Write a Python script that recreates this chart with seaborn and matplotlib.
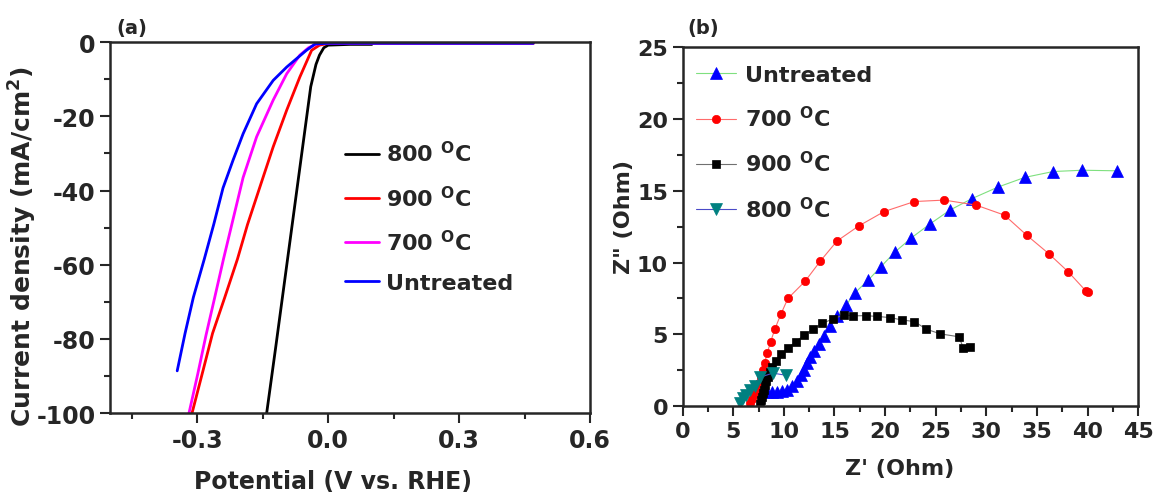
import numpy as np
import pandas as pd
import seaborn as sns
import matplotlib.pyplot as plt
from matplotlib.ticker import MultipleLocator

# ---- panel (a): LSV curves (potential V vs RHE, current density mA/cm2)
pot_800 = [0.10, 0.05, 0.0, -0.01, -0.02, -0.028, -0.04, -0.06, -0.08, -0.10, -0.12, -0.141]
cur_800 = [-0.6, -0.6, -0.8, -1.5, -3.5, -6.0, -12.0, -29.5, -47.0, -64.5, -82.0, -100.0]

pot_900 = [0.47, 0.2, 0.0, -0.02, -0.038, -0.065, -0.095, -0.126, -0.155, -0.185, -0.208, -0.237, -0.265, -0.287, -0.312]
cur_900 = [-0.3, -0.3, -0.3, -0.8, -2.2, -9.4, -18.3, -28.2, -38.5, -49.2, -58.5, -68.8, -78.5, -88.6, -100.0]

pot_700 = [0.47, 0.2, 0.0, -0.027, -0.045, -0.065, -0.095, -0.126, -0.164, -0.195, -0.221, -0.24, -0.26, -0.28, -0.299, -0.319]
cur_700 = [-0.3, -0.3, -0.3, -0.5, -1.5, -3.5, -8.5, -15.6, -25.5, -36.5, -49.2, -58.5, -68.8, -79.0, -89.5, -100.0]

pot_un = [0.47, 0.2, 0.0, -0.03, -0.05, -0.07, -0.095, -0.126, -0.164, -0.195, -0.218, -0.241, -0.262, -0.284, -0.309, -0.328, -0.346]
cur_un = [-0.3, -0.3, -0.3, -0.5, -2.2, -4.2, -6.7, -10.3, -16.6, -24.7, -31.8, -39.3, -49.0, -58.5, -68.8, -78.5, -88.6]

# ---- panel (b): Nyquist plots (Z', Z'')
zr_un = [7.45, 7.8, 8.3, 8.8, 9.3, 9.8, 10.3, 10.8, 11.3, 11.7, 12.0, 12.3, 12.6, 13.0, 13.5, 13.96,
         14.6, 15.26, 16.14, 17.05, 18.35, 19.6, 21.0, 22.6, 24.4, 26.4, 28.6, 31.2, 33.8, 36.6, 39.5, 42.9]
zi_un = [1.15, 1.05, 1.0, 1.0, 1.0, 1.05, 1.15, 1.4, 1.75, 2.15, 2.55, 3.0, 3.4, 3.85, 4.32, 4.85,
         5.55, 6.29, 7.03, 7.91, 8.79, 9.72, 10.75, 11.72, 12.67, 13.65, 14.46, 15.27, 15.93, 16.34, 16.43, 16.39]

zr_700 = [6.7, 6.9, 7.1, 7.3, 7.5, 7.7, 7.9, 8.1, 8.35, 8.7, 9.1, 9.7, 10.4, 12.1, 13.6, 15.25,
          17.4, 19.9, 22.9, 25.85, 29.0, 31.8, 34.0, 36.2, 38.1, 39.8, 40.0]
zi_700 = [0.2, 0.5, 0.85, 1.2, 1.6, 2.0, 2.5, 3.0, 3.7, 4.5, 5.35, 6.4, 7.5, 8.7, 10.1, 11.5,
          12.55, 13.55, 14.25, 14.35, 14.0, 13.3, 11.9, 10.6, 9.35, 8.05, 7.98]

zr_900 = [7.6, 7.7, 7.8, 7.9, 8.0, 8.1, 8.25, 8.4, 8.6, 8.85, 9.2, 9.7, 10.4, 11.2, 12.0, 12.9,
          13.8, 14.84, 15.9, 16.84, 18.1, 19.16, 20.46, 21.68, 22.9, 24.07, 25.47, 27.3, 27.72, 28.35]
zi_900 = [0.15, 0.4, 0.65, 0.9, 1.15, 1.45, 1.75, 2.05, 2.4, 2.75, 3.15, 3.6, 4.05, 4.5, 4.95, 5.36,
          5.78, 6.06, 6.36, 6.29, 6.3, 6.25, 6.17, 6.0, 5.89, 5.36, 5.03, 4.83, 4.06, 4.13]

zr_800 = [5.65, 6.0, 6.3, 6.7, 7.1, 7.6, 8.9, 10.2]
zi_800 = [0.25, 0.55, 0.8, 1.1, 1.4, 2.0, 2.3, 2.15]

deg = r'$^{\mathbf{O}}$C'
lab_800 = '800 ' + deg
lab_900 = '900 ' + deg
lab_700 = '700 ' + deg
lab_un = 'Untreated'

sns.set_style('ticks')
plt.rcParams['font.family'] = ['DejaVu Sans']
plt.rcParams['font.weight'] = 'bold'
plt.rcParams['axes.labelweight'] = 'bold'
plt.rcParams['mathtext.fontset'] = 'dejavusans'
plt.rcParams['axes.unicode_minus'] = False
plt.rcParams['axes.linewidth'] = 1.8

fig = plt.figure(figsize=(11.59, 5.02), dpi=100)
ax1 = fig.add_axes([0.0949, 0.175, 0.4142, 0.739])
ax2 = fig.add_axes([0.589, 0.189, 0.393, 0.715])

# ---------------- (a)
frames = []
for lab, p, c in [(lab_800, pot_800, cur_800), (lab_900, pot_900, cur_900),
                  (lab_700, pot_700, cur_700), (lab_un, pot_un, cur_un)]:
    frames.append(pd.DataFrame({'Potential': p, 'J': c, 'Sample': lab}))
df_a = pd.concat(frames, ignore_index=True)

pal_a = {lab_800: '#000000', lab_900: '#ff0000', lab_700: '#ff00ff', lab_un: '#0000ff'}
sns.lineplot(data=df_a, x='Potential', y='J', hue='Sample',
             hue_order=[lab_800, lab_900, lab_700, lab_un], palette=pal_a,
             sort=False, estimator=None, linewidth=2.0, ax=ax1)

ax1.set_xlim(-0.5, 0.6)
ax1.set_ylim(-100, 0)
ax1.xaxis.set_major_locator(MultipleLocator(0.3))
ax1.xaxis.set_minor_locator(MultipleLocator(0.15))
ax1.yaxis.set_major_locator(MultipleLocator(20))
ax1.yaxis.set_minor_locator(MultipleLocator(10))
ax1.xaxis.set_major_formatter(plt.FormatStrFormatter('%.1f'))
ax1.tick_params(which='major', direction='out', length=7, width=1.5, labelsize=17)
ax1.tick_params(which='minor', direction='out', length=4, width=1.5)
for s in ax1.spines.values():
    s.set_visible(True)
ax1.set_xlabel('Potential (V vs. RHE)', fontsize=17)
ax1.set_ylabel(r'Current density (mA/cm$^{\mathbf{2}}$)', fontsize=18)
ax1.xaxis.set_label_coords(0.465, -0.15)
ax1.yaxis.set_label_coords(-0.148, 0.45)
sns.move_legend(ax1, 'upper left', bbox_to_anchor=(0.49, 0.735), frameon=False,
                title=None, fontsize=16, handlelength=1.5, handletextpad=0.35,
                labelspacing=0.85, borderaxespad=0, borderpad=0)
for t in ax1.get_legend().get_texts():
    t.set_fontweight('bold')

# ---------------- (b)
series_b = [
    (zr_un, zi_un, lab_un, '#7fe07f', '^', '#0000ff', 8),
    (zr_700, zi_700, lab_700, '#ff6b6b', 'o', '#ff0000', 6),
    (zr_900, zi_900, lab_900, '#707070', 's', '#000000', 5.5),
    (zr_800, zi_800, lab_800, '#4a4ac8', 'v', '#008080', 8),
]
for zr, zi, lab, lc, mk, mc, ms in series_b:
    sns.lineplot(x=zr, y=zi, sort=False, estimator=None, color=lc, linewidth=0.8,
                 marker=mk, markersize=ms, markerfacecolor=mc, markeredgecolor=mc,
                 markeredgewidth=0.5, label=lab, ax=ax2)

ax2.set_xlim(0, 45)
ax2.set_ylim(0, 25)
ax2.xaxis.set_major_locator(MultipleLocator(5))
ax2.xaxis.set_minor_locator(MultipleLocator(2.5))
ax2.yaxis.set_major_locator(MultipleLocator(5))
ax2.yaxis.set_minor_locator(MultipleLocator(2.5))
ax2.tick_params(which='major', direction='out', length=7, width=1.5, labelsize=16)
ax2.tick_params(which='minor', direction='out', length=4, width=1.5)
for s in ax2.spines.values():
    s.set_visible(True)
ax2.set_xlabel("Z' (Ohm)", fontsize=16)
ax2.set_ylabel('Z" (Ohm)', fontsize=16)
ax2.xaxis.set_label_coords(0.477, -0.145)
ax2.yaxis.set_label_coords(-0.107, 0.53)
leg = ax2.legend(loc='upper left', bbox_to_anchor=(0.03, 0.95), frameon=False,
                 fontsize=16, handlelength=1.8, handletextpad=0.4, labelspacing=0.9,
                 borderaxespad=0, borderpad=0)
for t in leg.get_texts():
    t.set_fontweight('bold')

fig.text(132 / 1159, 1 - 29 / 502, '(a)', fontsize=14, fontweight='bold', ha='center', va='center')
fig.text(703 / 1159, 1 - 29 / 502, '(b)', fontsize=14, fontweight='bold', ha='center', va='center')

fig.savefig('out.png', dpi=100)
